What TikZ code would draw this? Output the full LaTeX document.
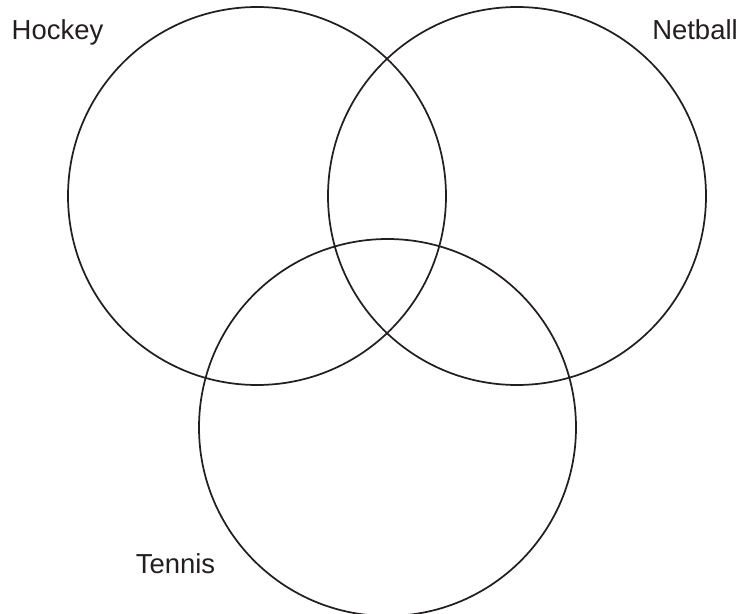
\documentclass[tikz,border=0pt]{standalone}
\usepackage{fontspec}
\setmainfont{Liberation Sans}
\usepackage{tikz}
\definecolor{ink}{HTML}{231F20}

\begin{document}
\begin{tikzpicture}[x=0.75pt,y=-0.75pt,
    set/.style={draw=ink,line width=1.3pt},
    setlabel/.style={anchor=base,text=ink,inner sep=0pt,font=\fontsize{20.6}{24}\selectfont}]
  \useasboundingbox (0,0) rectangle (743,614);
  \begin{scope}
    \clip (0,0) rectangle (743,614);
    \draw[set] (257,196) circle (189);
    \draw[set] (517,196) circle (189);
    \draw[set] (387.5,427.5) circle (188.5);
  \end{scope}
  \node[setlabel] (hockey) at (57.5,39) {Hockey};
  \node[setlabel] (netball) at (695,39) {Netball};
  \node[setlabel] (tennis) at (175.5,573) {Tennis};
\end{tikzpicture}
\end{document}
